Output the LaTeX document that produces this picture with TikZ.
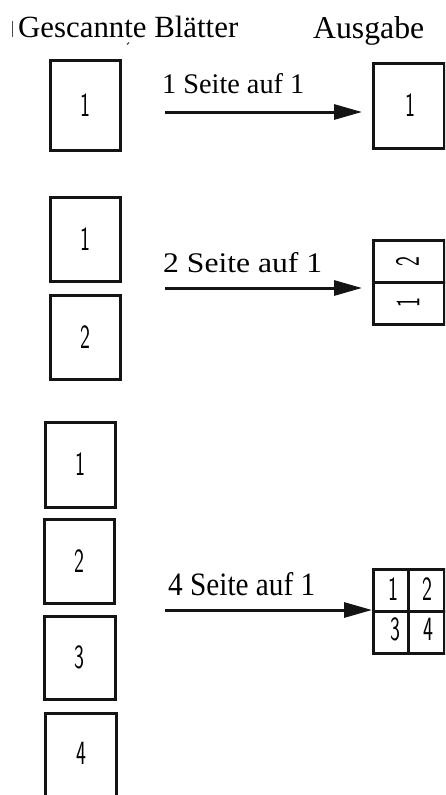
\documentclass[tikz,border=0pt]{standalone}
\usepackage{fontspec}
\setmainfont{Liberation Serif}
\usetikzlibrary{arrows.meta}
\newcommand{\pgnum}[1]{\scalebox{0.62}[1]{#1}}
\begin{document}
\begin{tikzpicture}[x=1pt,y=-1pt,
  page/.style={draw=black!92, line width=3pt, inner sep=0, minimum width=70pt, minimum height=85pt,
               font=\sffamily\fontsize{34}{34}\selectfont},
  num/.style={font=\sffamily\fontsize{34}{34}\selectfont, inner sep=0},
  lbl/.style={anchor=base west, inner sep=0},
  conn/.style={line width=3pt, draw=black!92, -{Triangle[length=28pt,width=15pt]}},
  divline/.style={line width=3pt, draw=black!92}]
\useasboundingbox (0,0) rectangle (445,795);
\clip (0,0) rectangle (445,795);

% titles
\node[lbl] (tin) at (18,37) {\resizebox{220pt}{!}{Gescannte Blätter}};
\node[lbl] (tout) at (313,38) {\resizebox{111pt}{!}{Ausgabe}};
\draw[line width=1pt, black!70] (12.7,21) -- (12.7,37);
\draw[line width=1.2pt, black!70] (127,44.5) -- (129,42.5);

% row 1
\node[page, minimum height=90pt] (r1a) at (85,105) {\pgnum{1}};
\node[page, minimum width=71pt] (o1) at (408.5,105.5) {\hspace{4pt}\pgnum{1}};
\node[lbl] (l1) at (162,93) {\resizebox{142pt}{20pt}{1 Seite auf 1}};
\coordinate (s1) at (165,112);
\coordinate (t1) at (362,112);
\draw[conn] (s1) -- (t1);

% row 2
\node[page, minimum height=84pt] (r2a) at (85,239) {\pgnum{1}};
\node[page, minimum height=84pt] (r2b) at (85,337) {\pgnum{2}};
\node[page, minimum width=71pt, minimum height=84pt] (o2) at (408.5,282) {};
\draw[divline] (o2.west) -- (o2.east);
\node[num, rotate=90] (o2a) at (407.5,262) {\pgnum{2}};
\node[num, rotate=90] (o2b) at (408,303) {\pgnum{1}};
\node[lbl] (l2) at (163,272) {\resizebox{159pt}{20pt}{2 Seite auf 1}};
\coordinate (s2) at (165,288);
\coordinate (t2) at (362,288);
\draw[conn] (s2) -- (t2);

% row 3
\node[page] (r3a) at (80.5,464.5) {\pgnum{1}};
\node[page, minimum width=70pt, minimum height=84pt] (r3b) at (79,561) {\pgnum{2}};
\node[page, minimum width=71pt, minimum height=83pt] (r3c) at (79.5,657.5) {\pgnum{3}};
\node[page, minimum width=71pt, minimum height=170pt] (r3d) at (80.5,798) {};
\node[num] (r3dn) at (81,753) {\pgnum{4}};
\node[page, minimum width=71pt, minimum height=84pt] (o4) at (408.5,611) {};
\draw[divline] (o4.north) -- (o4.south);
\draw[divline] (o4.west) -- (o4.east);
\node[num] (o4a) at (393,589) {\pgnum{1}};
\node[num] (o4b) at (427,589) {\pgnum{2}};
\node[num] (o4c) at (395,629) {\pgnum{3}};
\node[num] (o4d) at (428,629) {\pgnum{4}};
\node[lbl] (l3) at (168,595) {\resizebox{147pt}{23pt}{4 Seite auf 1}};
\coordinate (s3) at (165,610);
\coordinate (t3) at (372,610);
\draw[conn] (s3) -- (t3);
\end{tikzpicture}
\end{document}
